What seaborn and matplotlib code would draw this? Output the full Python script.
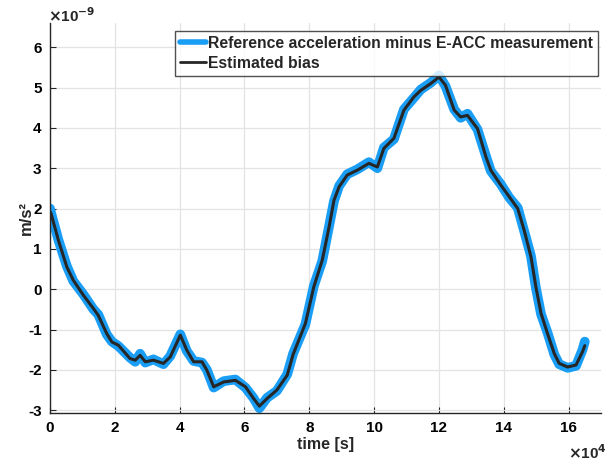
import matplotlib
matplotlib.use("Agg")
import matplotlib.pyplot as plt
import matplotlib.ticker as mticker
import seaborn as sns
import pandas as pd
import numpy as np

# time in units of 1e4 s, values in units of 1e-9 m/s^2
time_1e4 = [0.0, 0.03, 0.26, 0.52, 0.72, 1.03, 1.34, 1.49, 1.75, 1.91, 2.11, 2.47, 2.63,
            2.78, 2.94, 3.19, 3.5, 3.71, 4.02, 4.22, 4.43, 4.69, 4.84, 5.05, 5.36, 5.72,
            6.03, 6.28, 6.46, 6.7, 7.0, 7.32, 7.5, 7.88, 8.14, 8.4, 8.61, 8.76, 8.92,
            9.17, 9.48, 9.84, 10.1, 10.3, 10.61, 10.92, 11.23, 11.44, 11.75, 12.0, 12.2,
            12.47, 12.67, 12.88, 13.19, 13.45, 13.6, 13.91, 14.17, 14.43, 14.63, 14.84,
            14.99, 15.15, 15.35, 15.56, 15.71, 15.97, 16.23, 16.43, 16.5]
bias = [1.92, 1.88, 1.21, 0.55, 0.22, -0.15, -0.48, -0.65, -1.1, -1.31, -1.39, -1.72, -1.76,
        -1.64, -1.8, -1.76, -1.84, -1.68, -1.14, -1.51, -1.8, -1.8, -2.01, -2.42, -2.3, -2.26,
        -2.42, -2.71, -2.9, -2.71, -2.5, -2.13, -1.62, -0.85, 0.06, 0.72, 1.54, 2.2, 2.54,
        2.83, 2.95, 3.12, 3.03, 3.49, 3.74, 4.44, 4.77, 4.93, 5.1, 5.26, 5.06,
        4.44, 4.27, 4.31, 3.98, 3.28, 2.95, 2.58, 2.29, 2.0, 1.46, 0.8,
        0.06, -0.6, -1.1, -1.6, -1.84, -1.93, -1.88, -1.55, -1.4]
reference = [2.0, 1.9, 1.22, 0.57, 0.2, -0.13, -0.5, -0.63, -1.12, -1.3, -1.41, -1.7, -1.8,
             -1.6, -1.82, -1.74, -1.86, -1.66, -1.12, -1.53, -1.78, -1.82, -2.0, -2.44, -2.28, -2.24,
             -2.44, -2.7, -2.95, -2.69, -2.52, -2.11, -1.6, -0.87, 0.08, 0.7, 1.56, 2.18, 2.56,
             2.85, 2.97, 3.15, 3.0, 3.51, 3.72, 4.46, 4.75, 4.95, 5.12, 5.3, 5.04,
             4.46, 4.25, 4.35, 3.96, 3.3, 2.93, 2.6, 2.27, 2.02, 1.44, 0.82,
             0.04, -0.62, -1.08, -1.62, -1.86, -1.95, -1.9, -1.5, -1.3]
x_ticks = [0, 2, 4, 6, 8, 10, 12, 14, 16]
y_ticks = [-3, -2, -1, 0, 1, 2, 3, 4, 5, 6]

df = pd.DataFrame({
    "t": np.array(time_1e4) * 1e4,
    "ref": np.array(reference) * 1e-9,
    "bias": np.array(bias) * 1e-9,
})

sns.set_style("white")
plt.rcParams["font.family"] = ["Liberation Sans", "DejaVu Sans"]
plt.rcParams["font.weight"] = "bold"
plt.rcParams["axes.unicode_minus"] = False
plt.rcParams["axes.labelweight"] = "bold"
plt.rcParams["mathtext.default"] = "bf"

fig = plt.figure(figsize=(6.09, 4.66), dpi=100)
ax = fig.add_axes([50 / 609, 1 - 413 / 466, 551 / 609, 390 / 466])

BLUE = "#1A9EF5"
sns.lineplot(data=df, x="t", y="ref", ax=ax, color=BLUE, linewidth=7,
             label="Reference acceleration minus E-ACC measurement", estimator=None, sort=False)
sns.lineplot(data=df, x="t", y="bias", ax=ax, color="#262626", linewidth=2.2,
             label="Estimated bias", estimator=None, sort=False)

ax.set_xlim(0, 1.7e5)
ax.set_ylim(-3.07e-9, 6.6e-9)
ax.set_xticks(np.array(x_ticks) * 1e4)
ax.set_yticks(np.array(y_ticks) * 1e-9)
ax.xaxis.set_major_formatter(mticker.FuncFormatter(lambda v, p: f"{v / 1e4:.0f}"))
ax.yaxis.set_major_formatter(mticker.FuncFormatter(lambda v, p: f"{round(v / 1e-9):d}"))

ax.grid(True, color="#E3E3E3", linewidth=0.9)
ax.set_axisbelow(True)
for s in ["top", "right"]:
    ax.spines[s].set_visible(False)
for s in ["left", "bottom"]:
    ax.spines[s].set_color("#262626")
    ax.spines[s].set_linewidth(1.0)
ax.tick_params(axis="both", direction="in", length=4, width=0.8, colors="#262626",
               labelsize=11, labelcolor="black", left=True, bottom=True)
ax.tick_params(axis="y", pad=6)
ax.tick_params(axis="x", pad=6)
for lab in ax.get_xticklabels() + ax.get_yticklabels():
    lab.set_fontweight("bold")

# exponent markers as in the original
fig.text(48 / 609, 1 - 16 / 466, r"$\times$10$^{\mathbf{-9}}$", fontsize=11,
         fontweight="bold", ha="left", va="center")
fig.text(568 / 609, 1 - 453 / 466, r"$\times$10$^{\mathbf{4}}$", fontsize=11,
         fontweight="bold", ha="left", va="center")

ax.set_xlabel("time [s]", fontsize=11.5, fontweight="bold")
ax.set_ylabel("m/s²", fontsize=12, fontweight="bold")
ax.xaxis.set_label_coords(0.5, -0.062)
ax.yaxis.set_label_coords(-0.03, 0.5)

leg = ax.legend(loc="upper right", bbox_to_anchor=(0.994, 0.98), fontsize=11.3,
                frameon=True, fancybox=False, handlelength=1.65, handletextpad=0.1,
                borderpad=0.32, labelspacing=0.3, borderaxespad=0)
leg.get_frame().set_edgecolor("#262626")
leg.get_frame().set_linewidth(1.0)
for txt in leg.get_texts():
    txt.set_fontweight("bold")
for line in leg.get_lines():
    line.set_linewidth(4 if line.get_color() == BLUE else 2)

fig.savefig("out.png", dpi=100)
